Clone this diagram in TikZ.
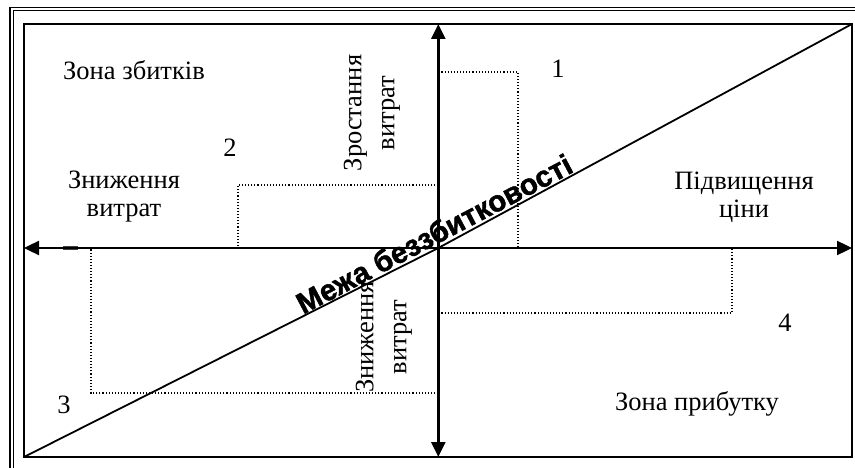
\documentclass[tikz,border=0pt]{standalone}
\usepackage{fontspec}
\setmainfont{Liberation Serif}
\newfontfamily\labelsans{Liberation Sans}[BoldFont={Liberation Sans Bold},BoldFeatures={FakeBold=1.6}]
\usetikzlibrary{arrows.meta}
\begin{document}
\begin{tikzpicture}[x=1pt,y=-1pt,
  axis/.style={line width=2.4pt,-{Triangle[length=15pt,width=14pt]}},
  dots/.style={line width=1.1pt,dash pattern=on 1.1pt off 2pt},
  frameline/.style={line width=1.4pt},
  edge/.style={line width=1.8pt},
  lbl/.style={font=\fontsize{26.5}{28}\selectfont,inner sep=0pt,align=center},
  vlbl/.style={font=\fontsize{26.5}{33}\selectfont,inner sep=0pt,align=center,rotate=90},
  bevlbl/.style={font=\labelsans\bfseries\fontsize{29.5}{31}\selectfont,inner sep=0pt,anchor=base,rotate=27.8}]
\useasboundingbox (0,0) rectangle (855,468);
\begin{scope}
  \clip (0,0) rectangle (855,468);
  \draw[frameline] (10,7.5) rectangle (880,490);
  \draw[frameline] (13.5,10.5) rectangle (876,486);
\end{scope}
\coordinate (O) at (438.3,248);
\coordinate (L) at (24,248);
\coordinate (R) at (852,248);
\coordinate (T) at (438.3,24);
\coordinate (B) at (438.3,457);
\coordinate (BL) at (24,457);
\coordinate (TR) at (852,24);
\draw[edge] (24,24) rectangle (852,457);
% dotted regions
\draw[dots] (438.3,72) -| (518,248);
\draw[dots] (438.3,185) -| (238,248);
\draw[dots] (438.3,393) -| (91,248);
\draw[dots] (438.3,313) -| (732,248);
\draw[line width=3.2pt,black!75] (63,248) -- (78,248);
% axes
\draw[axis] (O) -- (L);
\draw[axis] (O) -- (R);
\draw[axis] (O) -- (T);
\draw[axis] (O) -- (B);
% break-even line
\draw[edge] (BL) -- (O) -- (TR);
% labels
\node[lbl] (zloss) at (134,70) {Зона збитків};
\node[lbl] (n1) at (558,69) {1};
\node[lbl] (n2) at (230,148) {2};
\node[lbl] (n3) at (64,405) {3};
\node[lbl] (n4) at (785,323) {4};
\node[lbl] (lowcost) at (124,197) {Зниження\\витрат};
\node[lbl] (price) at (744,197) {Підвищення\\ціни};
\node[lbl] (zprofit) at (697,404) {Зона прибутку};
\node[vlbl] (growcost) at (372,113) {Зростання\\витрат};
\node[vlbl] (lowcost2) at (384,337) {Зниження\\витрат};
\node[bevlbl] (bev) at (439,243) {Межа беззбитковості};
\end{tikzpicture}
\end{document}
